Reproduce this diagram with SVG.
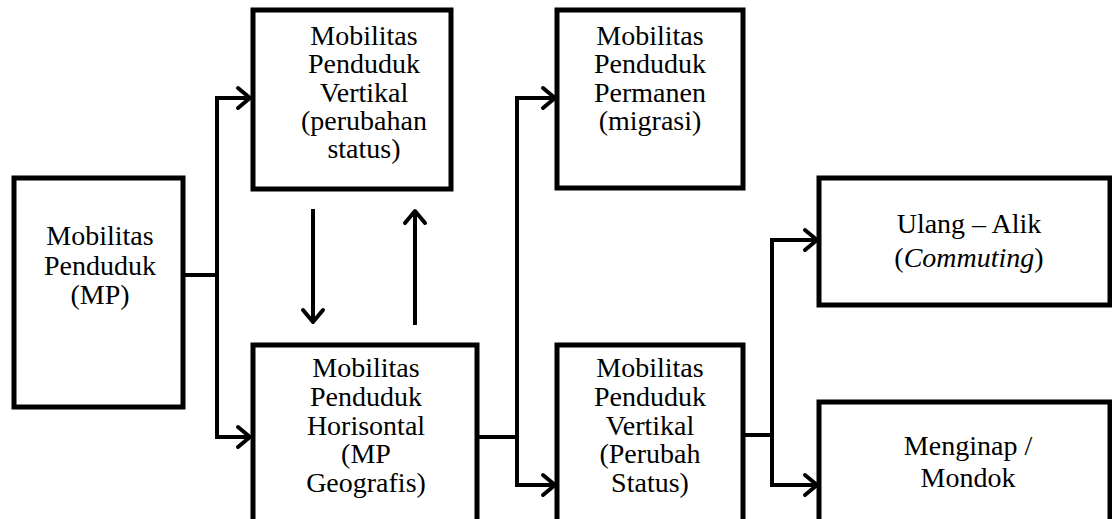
<svg xmlns="http://www.w3.org/2000/svg" width="1112" height="519" viewBox="0 0 1112 519">
<style>
.box{fill:#fff;stroke:#000;stroke-width:5}
.lbl{font-size:28px;fill:#000;text-anchor:middle}
.c{fill:none;stroke:#000;stroke-width:4}
.a{fill:none;stroke:#000;stroke-width:4;stroke-linecap:round;stroke-linejoin:round}
</style>
<rect width="1112" height="519" fill="#fff"/>
<g id="connectors">
<polyline class="c" points="183,275 217,275"/>
<polyline class="c" points="250,98 217,98 217,437 250,437"/>
<polyline class="a" points="238,88 250,98 238,108"/>
<polyline class="a" points="238,427 250,437 238,447"/>
<line class="c" x1="313" y1="209" x2="313" y2="322"/>
<polyline class="a" points="303,310 313,322 323,310"/>
<line class="c" x1="415" y1="325" x2="415" y2="211"/>
<polyline class="a" points="405,223 415,211 425,223"/>
<polyline class="c" points="477,437 517,437"/>
<polyline class="c" points="555,98 517,98 517,485 555,485"/>
<polyline class="a" points="543,88 555,98 543,108"/>
<polyline class="a" points="543,475 555,485 543,495"/>
<polyline class="c" points="743,435 772,435"/>
<polyline class="c" points="817,240 772,240 772,485 817,485"/>
<polyline class="a" points="805,230 817,240 805,250"/>
<polyline class="a" points="805,475 817,485 805,495"/>
</g>
<g font-family="Liberation Serif">
<g id="n1">
<rect class="box" x="14" y="178" width="169" height="229"/>
<text class="lbl" font-family="Liberation Serif" x="100" y="245">Mobilitas</text>
<text class="lbl" font-family="Liberation Serif" x="100" y="275">Penduduk</text>
<text class="lbl" font-family="Liberation Serif" x="100" y="304">(MP)</text>
</g>
<g id="n2">
<rect class="box" x="253" y="10" width="198" height="179"/>
<text class="lbl" font-family="Liberation Serif" x="364" y="45">Mobilitas</text>
<text class="lbl" font-family="Liberation Serif" x="364" y="73">Penduduk</text>
<text class="lbl" font-family="Liberation Serif" x="364" y="102">Vertikal</text>
<text class="lbl" font-family="Liberation Serif" x="364" y="130">(perubahan</text>
<text class="lbl" font-family="Liberation Serif" x="364" y="158">status)</text>
</g>
<g id="n3">
<rect class="box" x="253" y="345" width="224" height="190"/>
<text class="lbl" font-family="Liberation Serif" x="366" y="377">Mobilitas</text>
<text class="lbl" font-family="Liberation Serif" x="366" y="406">Penduduk</text>
<text class="lbl" font-family="Liberation Serif" x="366" y="435">Horisontal</text>
<text class="lbl" font-family="Liberation Serif" x="366" y="463">(MP</text>
<text class="lbl" font-family="Liberation Serif" x="366" y="492">Geografis)</text>
</g>
<g id="n4">
<rect class="box" x="557" y="10" width="186" height="178"/>
<text class="lbl" font-family="Liberation Serif" x="650" y="45">Mobilitas</text>
<text class="lbl" font-family="Liberation Serif" x="650" y="73">Penduduk</text>
<text class="lbl" font-family="Liberation Serif" x="650" y="102">Permanen</text>
<text class="lbl" font-family="Liberation Serif" x="650" y="130">(migrasi)</text>
</g>
<g id="n5">
<rect class="box" x="557" y="345" width="186" height="190"/>
<text class="lbl" font-family="Liberation Serif" x="650" y="377">Mobilitas</text>
<text class="lbl" font-family="Liberation Serif" x="650" y="406">Penduduk</text>
<text class="lbl" font-family="Liberation Serif" x="650" y="435">Vertikal</text>
<text class="lbl" font-family="Liberation Serif" x="650" y="463">(Perubah</text>
<text class="lbl" font-family="Liberation Serif" x="650" y="492">Status)</text>
</g>
<g id="n6">
<rect class="box" x="819" y="178" width="291" height="127"/>
<text class="lbl" font-family="Liberation Serif" x="969" y="233">Ulang – Alik</text>
<text class="lbl" font-family="Liberation Serif" x="969" y="267">(<tspan font-style="italic">Commuting</tspan>)</text>
</g>
<g id="n7">
<rect class="box" x="819" y="402" width="291" height="130"/>
<text class="lbl" font-family="Liberation Serif" x="968" y="455">Menginap /</text>
<text class="lbl" font-family="Liberation Serif" x="968" y="487">Mondok</text>
</g>
</g>
</svg>
